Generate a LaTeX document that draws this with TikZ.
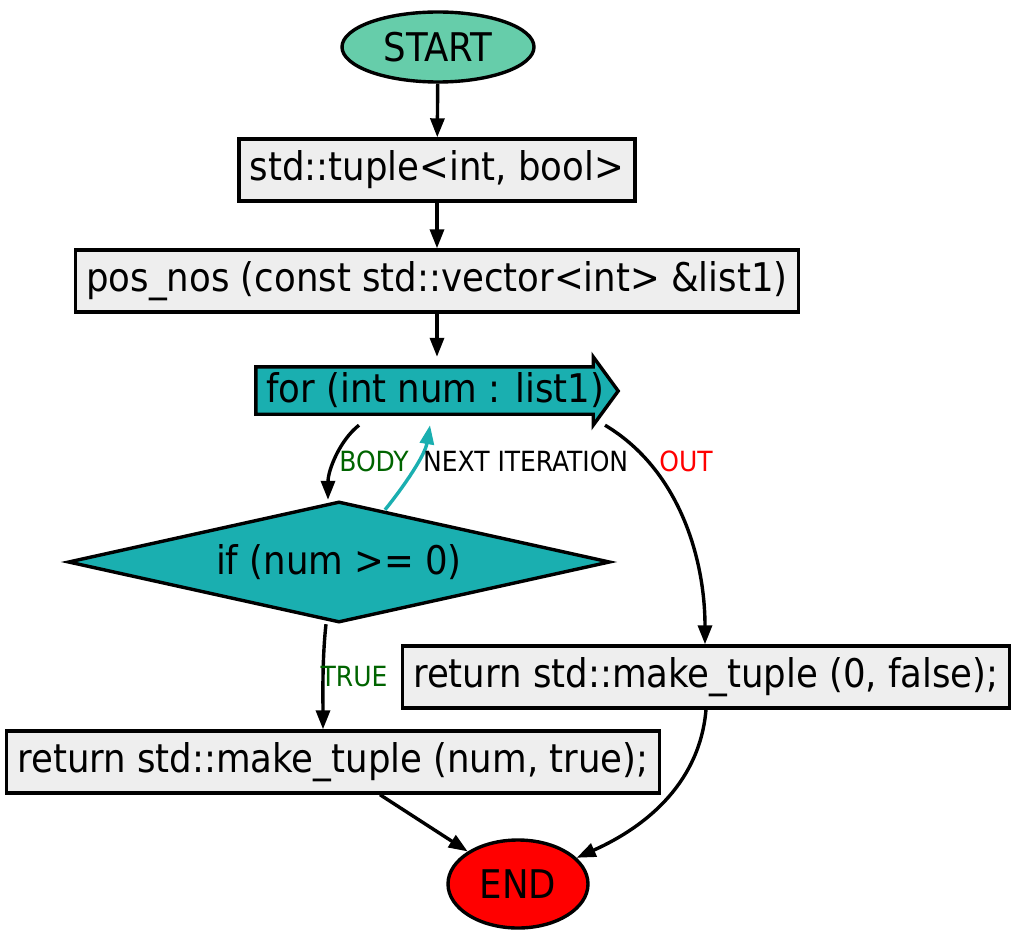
\documentclass[tikz,border=0pt]{standalone}
\usepackage{fontspec}
\setmainfont{DejaVu Sans Condensed}
\usetikzlibrary{shapes.geometric,arrows.meta,backgrounds}
\definecolor{startfill}{HTML}{66CDAA}
\definecolor{boxfill}{HTML}{EEEEEE}
\definecolor{loopfill}{HTML}{1AAFB0}
\definecolor{bodygreen}{HTML}{006400}
\begin{document}
\begin{tikzpicture}[x=1pt,y=-1pt,
  txt/.style={font=\fontsize{39.5}{45}\selectfont},
  lbl/.style={font=\fontsize{27.8}{31}\selectfont, inner sep=0pt},
  terminal/.style={draw, ellipse, line width=3.4pt, inner sep=0pt, txt},
  box/.style={draw, rectangle, line width=3.4pt, fill=boxfill, inner xsep=11pt, inner ysep=0pt, minimum height=62pt, txt},
  flow/.style={line width=3.4pt, -{Triangle[length=19pt,width=14pt]}}]
\useasboundingbox (0,0) rectangle (1017,933);

\node[terminal, fill=startfill, minimum width=192pt, minimum height=70pt] (start) at (438,47) {START};
\node[box] (tuple) at (437,170) {std::tuple<int, bool>};
\node[box] (posnos) at (437,281) {pos\_nos (const std::vector<int> \&list1)};
\node[txt, inner sep=0pt, minimum width=362pt, minimum height=68pt] (loop) at (437,391) {};
\begin{scope}[on background layer]
\path[draw, line width=3.4pt, fill=loopfill] ([yshift=-10pt]loop.north west) -- ([xshift=-25pt,yshift=-10pt]loop.north east)
  -- ([xshift=-25pt]loop.north east) -- (loop.east) -- ([xshift=-25pt]loop.south east)
  -- ([xshift=-25pt,yshift=11pt]loop.south east) -- ([yshift=11pt]loop.south west) -- cycle;
\end{scope}
\node[txt, anchor=west, inner sep=0pt] (looptext) at (266,390) {for (int num : list1)};
\node[draw, diamond, line width=3.4pt, fill=loopfill, inner sep=0pt, aspect=4.48, minimum width=542pt, minimum height=121pt, txt] (cond) at (339,562) {if (num >= 0)};
\node[box] (retfalse) at (706,677) {return std::make\_tuple (0, false);};
\node[box] (rettrue) at (333,762) {return std::make\_tuple (num, true);};
\node[terminal, fill=red, minimum width=140pt, minimum height=88pt] (end) at (518,884) {END};

\path[draw,flow] (start) -- (tuple);
\path[draw,flow] (tuple) -- (posnos);
\path[draw,flow] (posnos) -- (loop);
\path[draw,flow] ([xshift=-78pt]loop.south) .. controls (340,440) and (328,470) .. ([xshift=-11pt]cond.north);
\path[draw,flow,loopfill] ([xshift=46pt,yshift=-10pt]cond.north) .. controls (405,485) and (425,455) .. ([xshift=-7pt]loop.south);
\path[draw,flow] ([xshift=168pt]loop.south) .. controls (680,470) and (705,560) .. ([xshift=-1pt]retfalse.north);
\path[draw,flow] ([xshift=-13pt]cond.south) .. controls (322,660) and (323,700) .. ([xshift=-10pt]rettrue.north);
\path[draw,flow] ([xshift=47pt]rettrue.south) -- (end);
\path[draw,flow] (retfalse.south) .. controls (700,780) and (650,825) .. (end);

\node[lbl, text=bodygreen] (bodylbl) at (374,461) {BODY};
\node[lbl, anchor=west] (nextlbl) at (423,461) {NEXT ITERATION};
\node[lbl, text=red] (outlbl) at (686,461) {OUT};
\node[lbl, text=bodygreen] (truelbl) at (354,677) {TRUE};
\end{tikzpicture}
\end{document}
